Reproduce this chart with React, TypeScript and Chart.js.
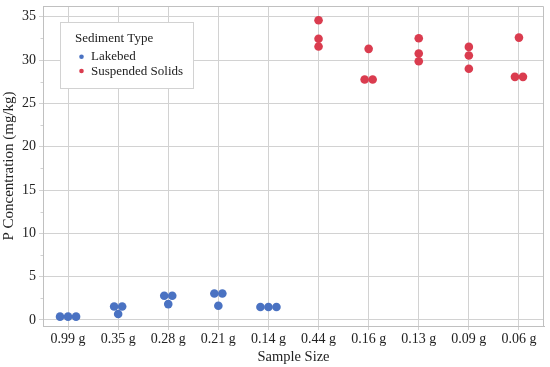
import React, { useEffect, useRef } from "react";
import { Chart, registerables } from "chart.js";

Chart.register(...registerables);

const categories = ["0.99 g", "0.35 g", "0.28 g", "0.21 g", "0.14 g", "0.44 g", "0.16 g", "0.13 g", "0.09 g", "0.06 g"];

const lakebedSamples = ["0.99 g", "0.35 g", "0.28 g", "0.21 g", "0.14 g"];
const lakebedValues = [
  [0.38, 0.38, 0.38],
  [1.56, 1.56, 0.69],
  [2.79, 2.79, 1.83],
  [3.05, 3.05, 1.64],
  [1.49, 1.49, 1.49],
];

const suspendedSamples = ["0.44 g", "0.16 g", "0.13 g", "0.09 g", "0.06 g"];
const suspendedValues = [
  [34.6, 32.46, 31.57],
  [31.3, 27.76, 27.76],
  [32.53, 30.76, 29.87],
  [31.53, 30.53, 29.0],
  [32.6, 28.07, 28.07],
];

const yTicks = [0, 2.5, 5, 7.5, 10, 12.5, 15, 17.5, 20, 22.5, 25, 27.5, 30, 32.5, 35];

const legendTitle = "Sediment Type";
const seriesNames = ["Lakebed", "Suspended Solids"];
const seriesColors = ["#4a72c2", "#da3c4f"];

const GRID = "#d2d2d2";
const AXIS = "#c0c0c0";
const TEXT = "#222222";
const FONT = "'Liberation Serif', 'Times New Roman', serif";

// swarm: tied values spread side by side
function swarm(samples: string[], values: number[][]) {
  const pts: { x: number; y: number }[] = [];
  samples.forEach((s, ci) => {
    const base = categories.indexOf(s);
    const vals = values[ci];
    const used = new Array(vals.length).fill(false);
    vals.forEach((v, i) => {
      if (used[i]) return;
      const group: number[] = [];
      vals.forEach((w, j) => {
        if (!used[j] && Math.abs(w - v) < 0.05) {
          group.push(j);
          used[j] = true;
        }
      });
      const n = group.length;
      group.forEach((j, k) => {
        pts.push({ x: base + (k - (n - 1) / 2) * 0.16, y: vals[j] });
      });
    });
  });
  return pts;
}

const framePlugin = {
  id: "frameAndLegend",
  afterDraw(chart: any) {
    const { ctx, chartArea } = chart;
    const y = chart.scales.y;
    ctx.save();
    // top/right border
    ctx.strokeStyle = AXIS;
    ctx.lineWidth = 1;
    ctx.beginPath();
    ctx.moveTo(chartArea.left, chartArea.top + 0.5);
    ctx.lineTo(chartArea.right - 0.5, chartArea.top + 0.5);
    ctx.lineTo(chartArea.right - 0.5, chartArea.bottom);
    ctx.stroke();
    // minor ticks
    ctx.strokeStyle = GRID;
    yTicks.forEach((v) => {
      if (v % 5 !== 0) {
        const py = Math.round(y.getPixelForValue(v)) + 0.5;
        ctx.beginPath();
        ctx.moveTo(chartArea.left - 2.5, py);
        ctx.lineTo(chartArea.left, py);
        ctx.stroke();
      }
    });
    // legend box
    const lx = chartArea.left + 17.5;
    const ly = chartArea.top + 16.5;
    ctx.fillStyle = "#ffffff";
    ctx.fillRect(lx, ly, 133, 66);
    ctx.strokeStyle = GRID;
    ctx.strokeRect(lx, ly, 133, 66);
    ctx.fillStyle = TEXT;
    ctx.font = `13px ${FONT}`;
    ctx.textBaseline = "alphabetic";
    ctx.textAlign = "left";
    ctx.fillText(legendTitle, lx + 14.5, ly + 19.5);
    seriesNames.forEach((name, i) => {
      const by = ly + 37.8 + i * 14.2;
      ctx.fillStyle = seriesColors[i];
      ctx.beginPath();
      ctx.arc(lx + 21, by - 3.5, 2.3, 0, Math.PI * 2);
      ctx.fill();
      ctx.fillStyle = TEXT;
      ctx.fillText(name, lx + 30.5, by);
    });
    ctx.restore();
  },
};

export default function App() {
  const ref = useRef<HTMLCanvasElement | null>(null);
  useEffect(() => {
    document.body.style.margin = "0";
    if (!ref.current) return;
    const chart = new Chart(ref.current, {
      type: "scatter",
      data: {
        datasets: [
          {
            label: seriesNames[0],
            data: swarm(lakebedSamples, lakebedValues),
            backgroundColor: seriesColors[0],
            borderWidth: 0,
            pointRadius: 4.3,
          },
          {
            label: seriesNames[1],
            data: swarm(suspendedSamples, suspendedValues),
            backgroundColor: seriesColors[1],
            borderWidth: 0,
            pointRadius: 4.3,
          },
        ],
      },
      options: {
        animation: false,
        responsive: false,
        layout: { padding: { top: 6, right: 6, left: 0, bottom: 0 } },
        plugins: { legend: { display: false }, tooltip: { enabled: false } },
        scales: {
          x: {
            type: "linear",
            min: -0.5,
            max: 9.5,
            afterBuildTicks: (axis: any) => {
              axis.ticks = categories.map((_, i) => ({ value: i }));
            },
            afterFit: (axis: any) => {
              axis.height = 41;
              axis.paddingLeft = 0;
              axis.paddingRight = 0;
            },
            grid: { color: GRID, tickLength: 4, tickColor: GRID },
            border: { display: true, color: AXIS },
            ticks: {
              color: TEXT,
              font: { family: FONT, size: 14 },
              padding: 1,
              maxRotation: 0,
              autoSkip: false,
              callback: (v: any) => categories[v as number] ?? "",
            },
            title: {
              display: true,
              text: "Sample Size",
              color: TEXT,
              font: { family: FONT, size: 14.5 },
              padding: { top: 0, bottom: 1.5 },
            },
          },
          y: {
            type: "linear",
            min: -0.7,
            max: 36.25,
            afterBuildTicks: (axis: any) => {
              axis.ticks = yTicks.filter((v) => v % 5 === 0).map((v) => ({ value: v }));
            },
            afterFit: (axis: any) => {
              axis.width = 43;
              axis.paddingTop = 0;
              axis.paddingBottom = 0;
            },
            grid: { color: GRID, tickLength: 4, tickColor: GRID },
            border: { display: true, color: AXIS },
            ticks: {
              color: TEXT,
              font: { family: FONT, size: 14 },
              padding: 3,
              callback: (v: any) => String(v),
            },
            title: {
              display: true,
              text: "P Concentration (mg/kg)",
              color: TEXT,
              font: { family: FONT, size: 15 },
              padding: { top: 0.5, bottom: 0 },
            },
          },
        },
      },
      plugins: [framePlugin],
    });
    return () => chart.destroy();
  }, []);
  return (
    <div style={{ width: 550, height: 367 }}>
      <canvas ref={ref} width={550} height={367} style={{ width: 550, height: 367, display: "block" }} />
    </div>
  );
}
